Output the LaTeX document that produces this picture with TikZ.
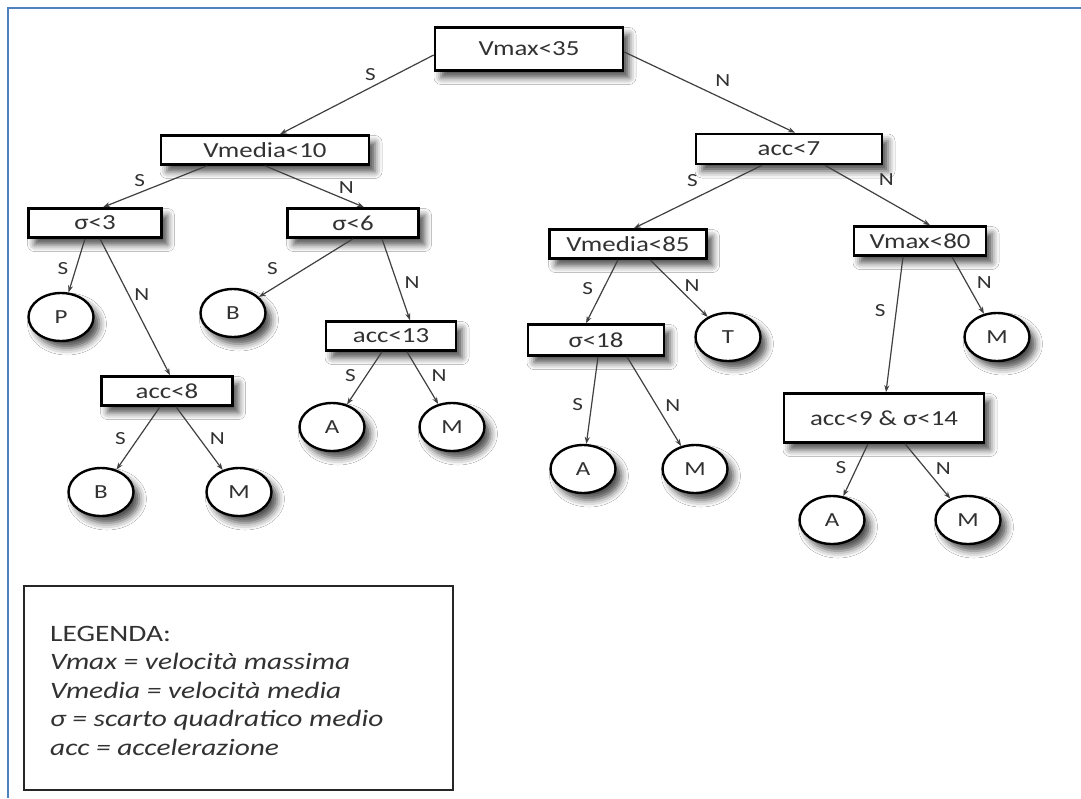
\documentclass[tikz,border=0pt]{standalone}
\usepackage{fontspec}
\setmainfont{Carlito}[FakeStretch=1.25]
\usepackage{xcolor}
\usetikzlibrary{arrows.meta,shapes.geometric,shadows.blur}
\definecolor{frameblue}{RGB}{79,129,189}
\definecolor{inkgray}{RGB}{50,50,50}

\begin{document}
\begin{tikzpicture}[x=1pt,y=-1pt,
      test/.style={rectangle, draw=black, line width=2.6pt, fill=white,
        text=inkgray, inner sep=0pt, font=\fontsize{21.5}{24}\selectfont,
        blur shadow={shadow xshift=6pt, shadow yshift=-7pt,
          shadow blur radius=7pt, shadow opacity=70}},
      leaf/.style={ellipse, draw=black, line width=2.4pt, fill=white,
        minimum width=65pt, minimum height=48pt, inner sep=0pt,
        text=inkgray, font=\fontsize{20}{22}\selectfont,
        blur shadow={shadow xshift=6pt, shadow yshift=-7pt,
          shadow blur radius=7pt, shadow opacity=70}},
      link/.style={draw=black!75, line width=1.2pt,
        -{Stealth[length=7pt,width=5pt]}},
      lab/.style={text=inkgray, font=\fontsize{18.5}{20}\selectfont, inner sep=2pt}
      ]
      \useasboundingbox (0,0) rectangle (1081,798);
      \fill[white] (0,0) rectangle (1081,798);
      \draw[frameblue, line width=2pt] (8,798) -- (8,8) -- (1081,8);

      % conditions
      \node[test, minimum width=188pt, minimum height=43pt] (vmax) at (529,49) {Vmax<35};
      \node[test, minimum width=208pt, minimum height=29pt] (vmedA) at (265,150) {Vmedia<10};
      \node[test, minimum width=133pt, minimum height=29pt] (sigA) at (95,223) {σ<3};
      \node[test, minimum width=131pt, minimum height=29pt] (sigB) at (353,223) {σ<6};
      \node[test, minimum width=131pt, minimum height=29pt] (accA) at (167,391) {acc<8};
      \node[test, minimum width=130pt, minimum height=29pt] (accB) at (391,336) {acc<13};
      \node[test, minimum width=186pt, minimum height=30pt] (accC) at (789,149) {acc<7};
      \node[test, minimum width=157pt, minimum height=29pt] (vmedB) at (628,244) {Vmedia<85};
      \node[test, minimum width=132pt, minimum height=29pt] (vmaxB) at (920,241) {Vmax<80};
      \node[test, minimum width=136pt, minimum height=31pt] (sigC) at (596,340) {σ<18};
      \node[test, minimum width=200pt, minimum height=49pt] (accD) at (884,418) {acc<9 \& σ<14};

      % classes
      \node[leaf] (leafP) at (61,317) {P};
      \node[leaf] (leafB1) at (233,313) {B};
      \node[leaf] (leafB2) at (101,492) {B};
      \node[leaf] (leafM1) at (239,492) {M};
      \node[leaf] (leafA1) at (332,427) {A};
      \node[leaf] (leafM2) at (452,427) {M};
      \node[leaf] (leafT) at (728,337) {T};
      \node[leaf] (leafM3) at (997,337) {M};
      \node[leaf] (leafA2) at (583,469) {A};
      \node[leaf] (leafM4) at (695,469) {M};
      \node[leaf] (leafA3) at (832,520) {A};
      \node[leaf] (leafM5) at (968,520) {M};

      % branches
      \draw[link] ([yshift=-6pt]vmax.west) -- node[lab, pos=.36, above left] {S} ([xshift=15pt]vmedA.north);
      \draw[link] ([yshift=-3pt]vmax.east) -- node[lab, pos=.5, above right=3pt] {N} ([xshift=6pt]accC.north);
      \draw[link] ([xshift=-58pt]vmedA.south) -- node[lab, pos=.57, above left=0pt] {S} ([xshift=8pt]sigA.north);
      \draw[link] (vmedA.south) -- node[lab, pos=.72, above right] {N} ([xshift=11pt]sigB.north);
      \draw[link] ([xshift=-10pt]sigA.south) -- node[lab, pos=.55, left=5pt] {S} (leafP);
      \draw[link] ([xshift=5pt]sigA.south) -- node[lab, pos=.41, right=3pt] {N} ([xshift=3pt]accA.north);
      \draw[link] (sigB.south) -- node[lab, pos=.73, above left=4pt] {S} (leafB1);
      \draw[link] ([xshift=29pt]sigB.south) -- node[lab, pos=.54, right=5pt] {N} ([xshift=19pt]accB.north);
      \draw[link] ([xshift=-7pt]accA.south) -- node[lab, pos=.5, left=10pt] {S} (leafB2);
      \draw[link] ([xshift=9pt]accA.south) -- node[lab, pos=.5, right=8pt] {N} (leafM1);
      \draw[link] ([xshift=-9pt]accB.south) -- node[lab, pos=.45, left=8pt] {S} (leafA1);
      \draw[link] ([xshift=16pt]accB.south) -- node[lab, pos=.45, right=8pt] {N} (leafM2);
      \draw[link] ([xshift=-27pt]accC.south) -- node[lab, pos=.45, above left=4pt] {S} ([xshift=6pt]vmedB.north);
      \draw[link] ([xshift=36pt]accC.south) -- node[lab, pos=.45, above right=4pt] {N} ([xshift=10pt]vmaxB.north);
      \draw[link] ([xshift=-10pt]vmedB.south) -- node[lab, pos=.45, left=8pt] {S} ([xshift=-10pt]sigC.north);
      \draw[link] ([xshift=22pt]vmedB.south) -- node[lab, pos=.45, right=6pt] {N} (leafT);
      \draw[link] ([xshift=-17pt]vmaxB.south) -- node[lab, pos=.4, left=8pt] {S} ([xshift=2pt]accD.north);
      \draw[link] ([xshift=32pt]vmaxB.south) -- node[lab, pos=.45, right=8pt] {N} (leafM3);
      \draw[link] ([xshift=2pt]sigC.south) -- node[lab, pos=.55, left=6pt] {S} (leafA2);
      \draw[link] ([xshift=31pt]sigC.south) -- node[lab, pos=.55, right=6pt] {N} (leafM4);
      \draw[link] ([xshift=-16pt]accD.south) -- node[lab, pos=.45, left=8pt] {S} (leafA3);
      \draw[link] ([xshift=21pt]accD.south) -- node[lab, pos=.45, right=8pt] {N} (leafM5);

      % legend
      \draw[black!85, line width=1.8pt, fill=white] (24,586) rectangle (453,790);
      \node[anchor=north west, inner sep=0pt, align=left, text=inkgray,
        font=\fontsize{23.5}{28.5}\selectfont] (legend) at (50,626)
        {LEGENDA:\\\textit{Vmax = velocità massima}\\\textit{Vmedia = velocità media}\\
         \textit{σ = scarto quadratico medio}\\\textit{acc = accelerazione}};
    \end{tikzpicture}
\end{document}
